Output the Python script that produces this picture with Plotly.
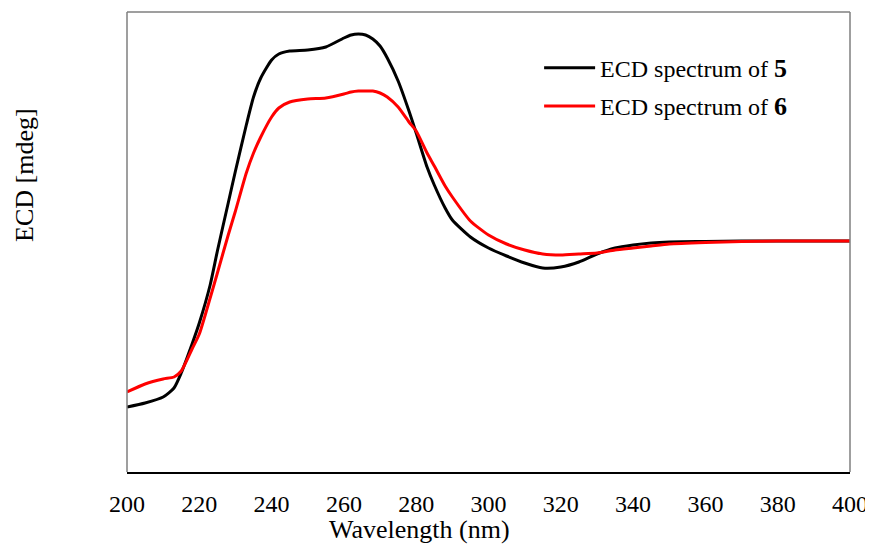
import plotly.graph_objects as go

wavelength = [200, 205, 210, 213, 215, 218, 220, 223, 225, 228, 230, 233, 235, 237, 240,
              242, 245, 250, 255, 260, 262, 264, 266, 268, 270, 272, 275, 278, 280,
              283, 285, 288, 290, 295, 300, 305, 310, 315, 320, 325, 330,
              335, 340, 345, 350, 360, 370, 380, 390, 400]

ecd_5 = [-166, -162, -156, -147, -132, -103, -82, -44, -10, 38, 70, 116, 144, 163, 181,
         187, 190, 191, 194, 203, 206, 207, 206, 202, 195, 183, 160, 130, 108,
         74, 56, 33, 21, 4, -7, -15, -22, -27, -26, -21, -13,
         -7, -4, -2, -1, -0.5, 0, 0, 0, 0]

ecd_6 = [-151, -143, -138, -136, -130, -108, -93, -57, -32, 6, 30, 68, 88, 104, 124,
         133, 139, 142, 143, 147, 149, 150, 150, 150, 148, 144, 134, 119, 110,
         88, 75, 55, 44, 20, 6, -3, -9, -13, -14, -13, -12,
         -9, -7, -5, -3, -1.5, -0.5, 0, 0, 0]

x_ticks = [200, 220, 240, 260, 280, 300, 320, 340, 360, 380, 400]

serif = "Liberation Serif, Times New Roman, serif"

fig = go.Figure()

fig.add_trace(go.Scatter(
    x=wavelength, y=ecd_5, mode="lines", legendgroup="a",
    line=dict(color="black", width=3, shape="spline", smoothing=0.6),
    name="ECD spectrum of <b><span style='font-size:26px'>5</span></b>",
))
fig.add_trace(go.Scatter(
    x=wavelength, y=ecd_6, mode="lines", legendgroup="b",
    line=dict(color="#ff0000", width=3, shape="spline", smoothing=0.6),
    name="ECD spectrum of <b><span style='font-size:26px'>6</span></b>",
))

# grey frame on left, top and right; bottom axis line is black
for x0, y0, x1, y1 in [(0, 0, 0, 1), (0, 1, 1, 1), (1, 0, 1, 1)]:
    fig.add_shape(type="line", xref="paper", yref="paper",
                  x0=x0, y0=y0, x1=x1, y1=y1,
                  line=dict(color="#7f7f7f", width=1.5))

# axis titles (placed off-centre like the original)
fig.add_annotation(text="Wavelength (nm)", xref="paper", yref="paper",
                   x=0.405, y=-0.125, xanchor="center", yanchor="middle",
                   showarrow=False, font=dict(size=26))
fig.add_annotation(text="ECD [mdeg]", xref="paper", yref="paper",
                   x=-0.141, y=0.646, xanchor="center", yanchor="middle",
                   textangle=-90, showarrow=False, font=dict(size=26))

# page body has an 8px margin, so the figure is 8px smaller than the window
fig.update_layout(
    width=865, height=539,
    margin=dict(l=119, r=23, t=4, b=75, autoexpand=False),
    paper_bgcolor="white", plot_bgcolor="white",
    font=dict(family=serif, color="black", size=24),
    showlegend=True,
    legend=dict(x=0.57, y=0.927, xanchor="left", yanchor="top",
                bgcolor="rgba(0,0,0,0)", font=dict(size=24),
                tracegroupgap=4, itemwidth=51),
    xaxis=dict(
        range=[200, 400], tickvals=x_ticks, ticks="",
        showgrid=False, zeroline=False, automargin=False,
        showline=True, linecolor="black", linewidth=2,
        tickfont=dict(size=24), ticklabelstandoff=9,
    ),
    yaxis=dict(
        range=[-231, 229], showticklabels=False, ticks="",
        showgrid=False, zeroline=False, showline=False, automargin=False,
    ),
)

fig.write_html("out.html")
